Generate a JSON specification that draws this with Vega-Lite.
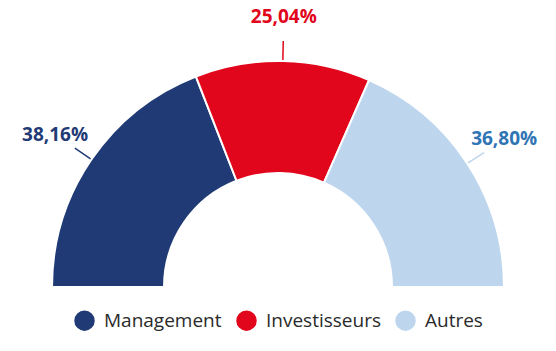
{
  "$schema": "https://vega.github.io/schema/vega-lite/v6.json",
  "width": 556,
  "height": 300,
  "autosize": {"type": "pad"},
  "padding": {"left": 0, "right": 0, "top": 0, "bottom": 12},
  "background": "white",
  "config": {"view": {"stroke": null}, "legend": {"layout": {"bottom": {"anchor": "middle"}}}},
  "data": {
    "values": [
      {"categorie": "Management", "part": 38.16, "etiquette": "38,16%", "rang": 1},
      {"categorie": "Investisseurs", "part": 25.04, "etiquette": "25,04%", "rang": 2},
      {"categorie": "Autres", "part": 36.80, "etiquette": "36,80%", "rang": 3}
    ]
  },
  "encoding": {
    "theta": {"field": "part", "type": "quantitative", "stack": true, "scale": {"range": [-1.5708, 1.5708]}},
    "order": {"field": "rang", "type": "quantitative"}
  },
  "layer": [
    {
      "mark": {"type": "arc", "innerRadius": 114, "outerRadius": 226, "stroke": "white", "strokeWidth": 2, "x": {"expr": "width/2"}, "y": {"expr": "height-13"}},
      "encoding": {
        "color": {
          "field": "categorie",
          "type": "nominal",
          "scale": {"domain": ["Management", "Investisseurs", "Autres"], "range": ["#1f3a75", "#e1061b", "#bdd6ee"]},
          "legend": {
            "title": null,
            "orient": "bottom",
            "direction": "horizontal",
            "symbolType": "circle",
            "symbolSize": 420,
            "symbolStrokeWidth": 0,
            "labelFont": "Open Sans",
            "labelFontSize": 19,
            "labelColor": "#2a2a2a",
            "labelOffset": 9,
            "labelLimit": 0,
            "columnPadding": 14,
            "offset": 10
          }
        }
      }
    },
    {
      "mark": {"type": "arc", "innerRadius": 227, "outerRadius": 246, "padAngle": 1.1, "filled": false, "strokeWidth": 1.5, "x": {"expr": "width/2"}, "y": {"expr": "height-13"}},
      "encoding": {
        "color": {"field": "categorie", "type": "nominal"}
      }
    },
    {
      "mark": {"type": "text", "radius": 270, "font": "Open Sans", "fontWeight": "bold", "fontSize": 19, "x": {"expr": "width/2"}, "y": {"expr": "height-13"}},
      "encoding": {
        "text": {"field": "etiquette", "type": "nominal"},
        "fill": {
          "field": "categorie",
          "type": "nominal",
          "scale": {"domain": ["Management", "Investisseurs", "Autres"], "range": ["#1f3a75", "#e1061b", "#2f74b5"]},
          "legend": null
        }
      }
    }
  ]
}
